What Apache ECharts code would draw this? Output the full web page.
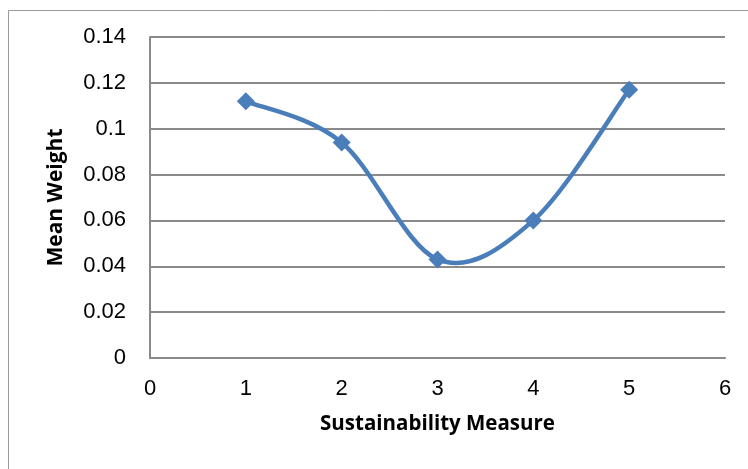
<!DOCTYPE html>
<html>
<head>
<meta charset="utf-8">
<script src="https://cdn.jsdelivr.net/npm/echarts@6/dist/echarts.min.js"></script>
<style>
html,body{margin:0;padding:0;background:#fff;}
#chart{width:748px;height:469px;}
</style>
</head>
<body>
<div id="chart"></div>
<script>
const measures = [1, 2, 3, 4, 5];
const meanWeights = [0.112, 0.094, 0.043, 0.060, 0.117];
const xTickMin = 0, xTickMax = 6, xTickStep = 1;
const yTickMin = 0, yTickMax = 0.14, yTickStep = 0.02;

const chart = echarts.init(document.getElementById('chart'));
const gray = '#8a8a8a';
const blue = '#4A7EBB';
const points = measures.map((m, i) => [m, meanWeights[i]]);

function renderSegment(params, api) {
  const i = params.dataIndex;
  const n = points.length;
  if (i >= n - 1) return null;
  const c = j => api.coord(points[Math.max(0, Math.min(n - 1, j))]);
  const p0 = c(i - 1), p1 = c(i), p2 = c(i + 1), p3 = c(i + 2);
  const c1 = [p1[0] + (p2[0] - p0[0]) / 6, p1[1] + (p2[1] - p0[1]) / 6];
  const c2 = [p2[0] - (p3[0] - p1[0]) / 6, p2[1] - (p3[1] - p1[1]) / 6];
  const d = 'M' + p1[0] + ' ' + p1[1] + ' C' + c1[0] + ' ' + c1[1] + ' ' +
            c2[0] + ' ' + c2[1] + ' ' + p2[0] + ' ' + p2[1];
  return {
    type: 'path',
    shape: {pathData: d},
    style: {fill: 'none', stroke: blue, lineWidth: 4.5, lineCap: 'round', lineJoin: 'round'}
  };
}

chart.setOption({
  animation: false,
  backgroundColor: '#fff',
  graphic: [{
    type: 'rect',
    shape: {x: 8.5, y: 10.5, width: 800, height: 500},
    style: {fill: 'none', stroke: '#9a9a9a', lineWidth: 1},
    silent: true
  }],
  grid: {left: 150, right: 23, top: 37, bottom: 111, outerBoundsMode: 'none'},
  xAxis: {
    type: 'value', min: xTickMin, max: xTickMax, interval: xTickStep,
    name: 'Sustainability Measure', nameLocation: 'middle', nameGap: 56,
    nameTextStyle: {fontFamily: 'Open Sans', fontWeight: 'bold', fontSize: 20.5, color: '#000'},
    axisLine: {show: true, lineStyle: {color: gray, width: 2}},
    axisTick: {show: false},
    splitLine: {show: false},
    axisLabel: {fontFamily: 'Liberation Sans', fontSize: 22, color: '#000', margin: 20}
  },
  yAxis: {
    type: 'value', min: yTickMin, max: yTickMax, interval: yTickStep,
    name: 'Mean Weight', nameLocation: 'middle', nameGap: 83,
    nameTextStyle: {fontFamily: 'Open Sans', fontWeight: 'bold', fontSize: 21, color: '#000'},
    axisLine: {show: true, lineStyle: {color: gray, width: 2}},
    axisTick: {show: false},
    splitLine: {show: true, lineStyle: {color: gray, width: 2}},
    axisLabel: {fontFamily: 'Liberation Sans', fontSize: 22, color: '#000', margin: 24}
  },
  series: [{
    type: 'custom',
    renderItem: renderSegment,
    data: points,
    encode: {x: 0, y: 1},
    silent: true,
    z: 2
  }, {
    type: 'scatter',
    data: points,
    symbol: 'diamond',
    symbolSize: 18,
    itemStyle: {color: blue, opacity: 1},
    z: 3
  }]
});
</script>
</body>
</html>
